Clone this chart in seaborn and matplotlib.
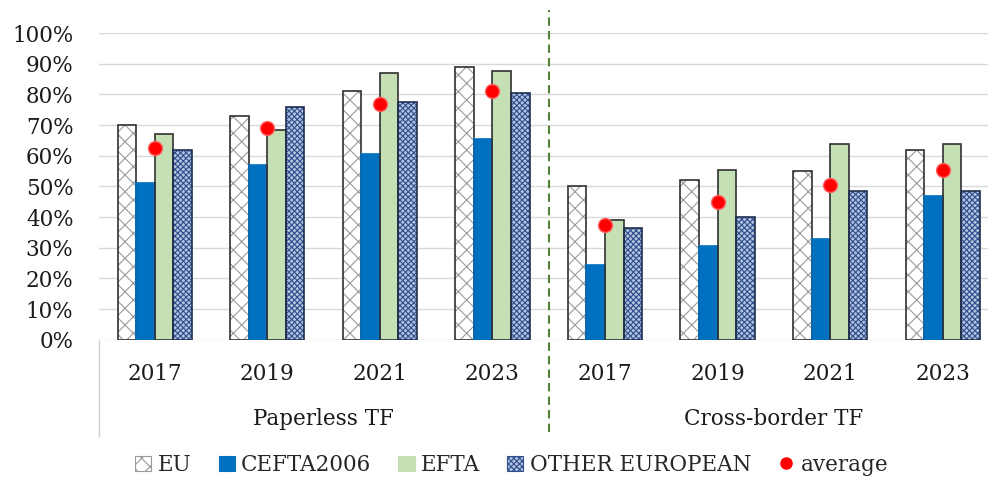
import numpy as np
import pandas as pd
import matplotlib.pyplot as plt
import matplotlib.transforms as mtransforms
from matplotlib.patches import Patch, Rectangle
from matplotlib.lines import Line2D
import seaborn as sns

# data
groups = ["Paperless TF", "Cross-border TF"]
years = ["2017", "2019", "2021", "2023"]
series = ["EU", "CEFTA2006", "EFTA", "OTHER EUROPEAN"]

eu = [0.70, 0.73, 0.81, 0.89, 0.50, 0.52, 0.55, 0.62]
cefta = [0.51, 0.57, 0.605, 0.655, 0.245, 0.305, 0.33, 0.47]
efta = [0.67, 0.685, 0.87, 0.875, 0.39, 0.555, 0.64, 0.64]
other = [0.62, 0.76, 0.775, 0.805, 0.365, 0.40, 0.485, 0.485]
average = [0.625, 0.69, 0.77, 0.81, 0.375, 0.45, 0.505, 0.555]

slots = [g + " " + y for g in groups for y in years]
df = pd.DataFrame({"slot": slots * 4,
                   "series": np.repeat(series, len(slots)),
                   "value": eu + cefta + efta + other})

styles = {
    "EU": dict(facecolor="white", hatch_color="#9a9a9a", hatch="xx"),
    "CEFTA2006": dict(facecolor="#0070C0", hatch_color="#0070C0", hatch=""),
    "EFTA": dict(facecolor="#C5E0B4", hatch_color="#C5E0B4", hatch=""),
    "OTHER EUROPEAN": dict(facecolor="#B2C2DF", hatch_color="#2F4E8C", hatch="xxxxxx"),
}
outline = {"EU": "#303030", "CEFTA2006": "#0070C0", "EFTA": "#303030", "OTHER EUROPEAN": "#1F2F4F"}

sns.set_style("white")
plt.rcParams['font.family'] = ['DejaVu Serif']
plt.rcParams['hatch.linewidth'] = 0.8

fig = plt.figure(figsize=(9.88, 4.8), dpi=100)
ax = fig.add_axes([0.0997, 0.292, 0.9114, 0.639])

sns.barplot(data=df, x="slot", y="value", hue="series", order=slots, hue_order=series,
            width=0.66, gap=0, errorbar=None, legend=False, ax=ax)

# style the bars: hatch drawn in the edge colour, then a separate outline on top
for name, cont in zip(series, ax.containers):
    st = styles[name]
    for p in cont.patches:
        p.set_facecolor(st["facecolor"])
        p.set_edgecolor(st["hatch_color"])
        p.set_hatch(st["hatch"])
        p.set_linewidth(0)
        ax.add_patch(Rectangle(p.get_xy(), p.get_width(), p.get_height(), fill=False,
                               edgecolor=outline[name], linewidth=1.2, zorder=p.get_zorder() + 0.1))

sns.pointplot(x=slots, y=average, order=slots, linestyle="none", marker="o", color="#FF0000",
              markersize=10, markeredgecolor="#FF6060", markeredgewidth=1, errorbar=None, ax=ax)
for c in ax.collections + ax.lines:
    c.set_zorder(5)

ax.set_ylim(0, 1.0)
ax.set_xlim(-0.5, len(slots) - 0.5)
ax.set_yticks(np.arange(0, 1.01, 0.1))
ax.set_yticklabels([f"{int(round(v * 100))}%" for v in np.arange(0, 1.01, 0.1)])
ax.set_xticks(range(len(slots)))
ax.set_xticklabels(years * len(groups))
ax.tick_params(axis="both", length=0, labelsize=15.5, colors="#1a1a1a")
ax.tick_params(axis="y", pad=18)
ax.tick_params(axis="x", pad=17)
ax.set_xlabel("")
ax.set_ylabel("")
ax.yaxis.grid(True, color="#D9D9D9", linewidth=1)
ax.set_axisbelow(True)
for s in ax.spines.values():
    s.set_visible(False)

trans = mtransforms.blended_transform_factory(ax.transData, ax.transAxes)
# group separators below the axis
ax.plot([-0.5, -0.5], [0, -0.316], transform=trans, clip_on=False, color="#D0D0D0", linewidth=1)
ax.plot([3.5, 3.5], [-0.30, 1.075], transform=trans, clip_on=False, color="#548235",
        linewidth=1.5, linestyle=(0, (4, 2.5)))
for i, g in enumerate(groups):
    ax.text(1.5 + 4 * i, -0.257, g, transform=trans, ha="center", va="center",
            fontsize=15.5, color="#1a1a1a")

handles = [Patch(facecolor=styles[n]["facecolor"], edgecolor=styles[n]["hatch_color"],
                 hatch=styles[n]["hatch"], linewidth=0.8) for n in series]
handles.append(Line2D([], [], marker="o", linestyle="none", color="#FF0000", markersize=8))
fig.legend(handles, series + ["average"], loc="center", bbox_to_anchor=(0.518, 0.031),
           ncol=5, frameon=False, fontsize=15.5, handlelength=0.75, handleheight=0.75,
           handletextpad=0.3, columnspacing=1.25)

fig.savefig("out.png", dpi=100)
